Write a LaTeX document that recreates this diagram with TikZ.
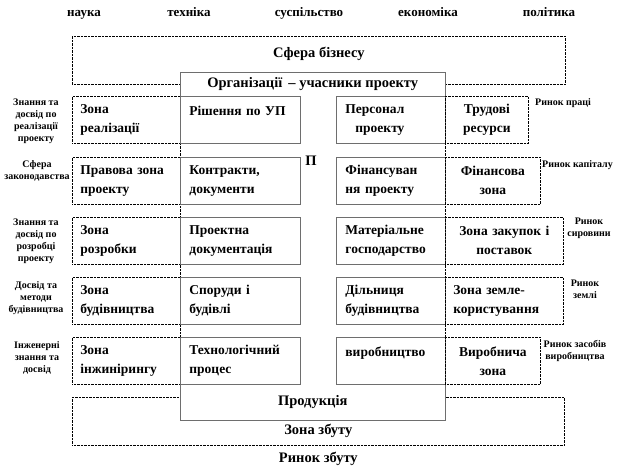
\documentclass[tikz,border=0pt]{standalone}
\usepackage{fontspec}
\setmainfont{Liberation Serif}
\usetikzlibrary{positioning}
\definecolor{edge}{HTML}{6E6E6E}
\newcommand\cellfont{\fontsize{13.5}{19}\selectfont\bfseries}
\newcommand\headfont{\fontsize{14.5}{17}\selectfont\bfseries}
\newcommand\sidefont{\fontsize{10}{12}\selectfont\bfseries}
\newcommand\topfont{\fontsize{13}{15}\selectfont\bfseries}

\tikzset{
  dots/.style={draw=black, line width=0.7pt, dash pattern=on 0.7pt off 0.7pt},
  frame/.style={draw=edge, line width=0.9pt},
  outcell/.style={dots, anchor=north west, minimum height=47pt, inner xsep=8pt,
    inner ysep=0pt, align=left, font=\cellfont},
  incell/.style={frame, fill=white, anchor=north west, minimum height=47pt,
    inner xsep=9pt, inner ysep=0pt, align=left, font=\cellfont},
  side/.style={font=\sidefont, align=center, inner sep=0pt},
  title/.style={font=\headfont, inner sep=0pt},
  topic/.style={font=\topfont, inner sep=0pt, anchor=base}
}

\begin{document}
\begin{tikzpicture}[x=1pt, y=-1pt]
  \useasboundingbox (0,0) rectangle (626,472);

  % top words
  \node[topic] (science)  at (84,16)  {наука};
  \node[topic] (techn)    at (189,16) {техніка};
  \node[topic] (society)  at (309,16) {суспільство};
  \node[topic] (economy)  at (428,16) {економіка};
  \node[topic] (politics) at (549,16) {політика};

  % outer spheres
  \node[dots, anchor=north west, minimum width=493pt, minimum height=48pt] (biz) at (72,36) {};
  \node[title] (biztxt) at ([yshift=-18pt]biz.north) {Сфера бізнесу};
  \node[dots, anchor=north west, minimum width=492pt, minimum height=48pt] (sales) at (72,397) {};
  \node[title] (salestxt) at ([yshift=15pt]sales.south) {Зона збуту};
  \node[title] (market) at ([yshift=-13pt]sales.south) {Ринок збуту};
  \draw[dots] (180,84) -- (180,397);
  \draw[dots] (445,84) -- (445,397);

  % organisations
  \node[title, fill=white, minimum width=265pt, minimum height=24pt, anchor=north west] (org) at (180,72)
    {Організації \,– учасники проекту};
  \draw[frame] (org.south west) |- (org.north east) -- (org.south east);
  \node[title, fill=white, minimum width=265pt, minimum height=36pt, anchor=north west] (output) at (180,384)
    {\raisebox{1pt}{Продукція}};
  \draw[frame] (output.north west) |- (output.south east) -- (output.north east);
  \node[title] (pmark) at (311,161) {П};

  % row 1
  \node[outcell, text width=92pt] (impl) at (72,96) {Зона\\реалізації};
  \node[incell, text width=102pt] (decis) at (180,96) {Рішення по УП\\\mbox{}};
  \node[incell, text width=91pt] (staff) at (336,96) {Персонал\\\hspace*{10pt}проекту};
  \node[outcell, text width=67pt, align=center] (labour) at (445,96) {Трудові\\ресурси};

  % row 2
  \node[outcell, text width=92pt] (legal) at (72,157) {Правова зона\\проекту};
  \node[incell, text width=102pt] (contr) at (180,157) {Контракти,\\документи};
  \node[incell, text width=91pt] (finan) at (336,157) {Фінансуван\\ня проекту};
  \node[outcell, text width=79pt, align=center] (finzone) at (445,157) {Фінансова\\зона};

  % row 3
  \node[outcell, text width=92pt] (devel) at (72,217) {Зона\\розробки};
  \node[incell, text width=102pt] (docs) at (180,217) {Проектна\\документація};
  \node[incell, text width=91pt] (matl) at (336,217) {Матеріальне\\господарство};
  \node[outcell, text width=102pt, align=center] (supply) at (445,217) {Зона закупок і\\поставок};

  % row 4
  \node[outcell, text width=92pt] (build) at (72,277) {Зона\\будівництва};
  \node[incell, text width=102pt] (struct) at (180,277) {Споруди і\\будівлі};
  \node[incell, text width=91pt] (site) at (336,277) {Дільниця\\будівництва};
  \node[outcell, text width=102pt] (land) at (445,277) {Зона земле-\\користування};

  % row 5
  \node[outcell, text width=92pt] (engin) at (72,337) {Зона\\інжинірингу};
  \node[incell, text width=102pt] (techpr) at (180,337) {Технологічний\\процес};
  \node[incell, text width=91pt] (manuf) at (336,337) {виробництво\\\mbox{}};
  \node[outcell, text width=79pt, align=center] (prodzone) at (445,337) {Виробнича\\зона};

  % side notes, left
  \node[side] (expimpl)  at (36,121) {Знання та\\досвід по\\реалізації\\проекту};
  \node[side] (lawsph)   at (37,171) {Сфера\\законодавства};
  \node[side] (expdev)   at (36,241) {Знання та\\досвід по\\розробці\\проекту};
  \node[side] (expbuild) at (36,298) {Досвід та\\методи\\будівництва};
  \node[side] (expeng)   at (37,358) {Інженерні\\знання та\\досвід};

  % side notes, right
  \node[side, anchor=west] (mlabour)  at (535,103) {Ринок праці};
  \node[side, anchor=west] (mcapital) at (542,165) {Ринок капіталу};
  \node[side] (mraw)   at (589,228) {Ринок\\сировини};
  \node[side] (mland)  at (585,289) {Ринок\\землі};
  \node[side] (mmeans) at (575,351) {Ринок засобів\\виробництва};
\end{tikzpicture}
\end{document}
